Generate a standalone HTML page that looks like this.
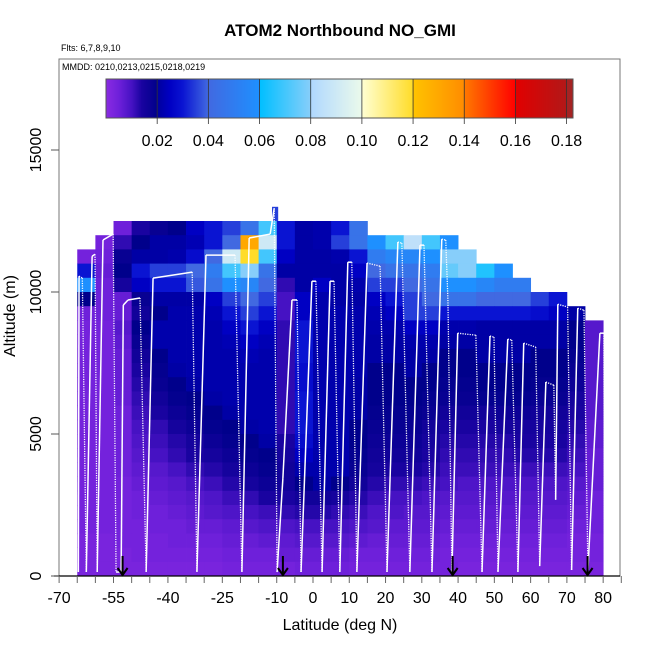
<!DOCTYPE html>
<html><head><meta charset="utf-8">
<style>
html,body{margin:0;padding:0;background:#fff;}
svg{display:block;font-family:"Liberation Sans",sans-serif;}
</style></head>
<body>
<svg id="chart" width="650" height="650" viewBox="0 0 650 650" xmlns="http://www.w3.org/2000/svg">
<text x="340" y="36" font-size="17" font-weight="bold" text-anchor="middle">ATOM2 Northbound NO_GMI</text>
<text x="61" y="51" font-size="9">Flts: 6,7,8,9,10</text>
<rect x="59" y="59" width="561" height="517" fill="none" stroke="#777" stroke-width="1"/>
<text x="62" y="70" font-size="9">MMDD: 0210,0213,0215,0218,0219</text>
<g id="cells"></g>
<g id="track"></g>
<g id="arrows"></g>
<g id="cbar"></g>
<g id="axes"></g>
<text x="340" y="630" font-size="16" text-anchor="middle">Latitude (deg N)</text>
<text transform="translate(15,316) rotate(-90)" font-size="16" text-anchor="middle">Altitude (m)</text>
</svg>
<script>
var latEdges = [-65,-60,-55,-50,-45,-40,-35,-30,-25,-20,-15,-10,-5,0,5,10,15,20,25,30,35,40,45,50,55,60,65,70,75,80];
var altStep = 500;
var n = null;
// rows from top (12000-12500 m) down to 0-500 m
var rowsTopDown = [
[n,n,.005,.014,.018,.02,.025,.03,.035,.045,.07,.03,.021,.022,.03,.045,n,n,n,n,n,n,n,n,n,n,n,n,n],
[n,.004,.012,.02,.021,.021,.023,.03,.04,.13,.09,.03,.021,.022,.035,.045,.06,.07,.085,.07,.06,n,n,n,n,n,n,n,n],
[.004,.005,.018,.021,.021,.022,.028,.04,.09,.12,.07,.025,.021,.021,.022,.03,.05,.055,.055,.06,.08,.08,n,n,n,n,n,n,n],
[.03,.006,.02,.03,.035,.035,.04,.05,.07,.08,.045,.021,.021,.021,.021,.025,.04,.045,.045,.05,.075,.08,.065,.06,n,n,n,n,n],
[.06,.005,.015,.025,.03,.03,.038,.045,.06,.055,.04,.012,.021,.025,.021,.022,.035,.035,.04,.045,.06,.06,.055,.05,.05,n,n,n,n],
[.02,.005,.006,.018,.021,.021,.021,.025,.035,.04,.035,.01,.025,.022,.021,.021,.025,.03,.035,.04,.045,.045,.04,.04,.04,.035,.03,n,n],
[.005,.005,.006,.016,.02,.022,.022,.023,.03,.035,.03,.01,.025,.022,.022,.022,.023,.025,.035,.035,.03,.03,.03,.03,.03,.028,.025,.021,n],
[.004,.004,.008,.02,.022,.022,.022,.022,.025,.03,.025,.012,.03,.022,.022,.022,.022,.022,.025,.025,.022,.022,.021,.021,.021,.021,.021,.02,.008],
[.004,.004,.007,.018,.022,.022,.022,.022,.023,.025,.023,.012,.03,.022,.022,.022,.021,.021,.022,.022,.021,.021,.021,.021,.021,.021,.021,.02,.008],
[.004,.004,.006,.016,.02,.022,.022,.022,.022,.023,.022,.012,.03,.022,.022,.022,.021,.021,.021,.021,.02,.02,.021,.021,.021,.02,.02,.019,.008],
[.004,.004,.006,.014,.019,.021,.022,.022,.022,.022,.022,.012,.028,.022,.022,.022,.02,.02,.021,.02,.02,.02,.02,.02,.02,.02,.02,.018,.008],
[.004,.004,.006,.013,.018,.02,.021,.022,.022,.022,.022,.012,.028,.022,.022,.021,.02,.02,.02,.02,.019,.019,.02,.02,.02,.019,.019,.017,.008],
[.004,.004,.006,.012,.016,.019,.02,.021,.022,.022,.022,.012,.03,.022,.022,.021,.02,.02,.02,.019,.018,.018,.019,.019,.019,.018,.018,.015,.008],
[.004,.004,.005,.011,.014,.017,.019,.02,.021,.022,.022,.012,.03,.022,.022,.021,.019,.019,.019,.018,.016,.016,.016,.017,.017,.016,.016,.014,.008],
[.004,.004,.005,.01,.012,.015,.017,.019,.02,.021,.022,.012,.03,.022,.022,.02,.018,.018,.018,.016,.014,.014,.014,.015,.015,.015,.015,.013,.007],
[.004,.004,.005,.009,.011,.013,.015,.017,.019,.02,.021,.014,.028,.022,.022,.02,.017,.017,.017,.015,.013,.013,.013,.013,.014,.014,.014,.012,.007],
[.004,.004,.005,.008,.01,.012,.014,.015,.017,.019,.02,.015,.025,.022,.022,.019,.016,.016,.016,.014,.012,.012,.012,.012,.013,.013,.013,.011,.006],
[.004,.004,.005,.007,.008,.01,.012,.013,.015,.017,.019,.016,.022,.022,.022,.018,.015,.014,.014,.013,.011,.011,.011,.011,.011,.011,.011,.01,.006],
[.004,.004,.004,.006,.007,.008,.01,.011,.013,.015,.017,.016,.02,.021,.02,.016,.013,.012,.012,.011,.01,.009,.009,.009,.009,.009,.009,.008,.006],
[.004,.004,.004,.005,.006,.007,.008,.009,.011,.012,.014,.014,.016,.016,.015,.013,.011,.01,.01,.009,.008,.008,.008,.008,.008,.008,.008,.007,.005],
[.004,.004,.004,.005,.005,.006,.007,.008,.009,.01,.011,.012,.013,.013,.012,.011,.009,.009,.008,.008,.007,.007,.007,.007,.007,.007,.007,.006,.005],
[.004,.004,.004,.004,.005,.005,.006,.006,.007,.008,.009,.009,.01,.01,.01,.009,.008,.007,.007,.007,.006,.006,.006,.006,.006,.006,.006,.005,.005],
[.003,.003,.004,.004,.004,.005,.005,.005,.006,.006,.007,.007,.008,.008,.008,.007,.006,.006,.006,.006,.005,.005,.005,.005,.005,.005,.005,.004,.004],
[.003,.003,.003,.004,.004,.004,.004,.004,.005,.005,.005,.006,.006,.006,.006,.005,.005,.005,.005,.005,.004,.004,.004,.004,.004,.004,.004,.004,.004],
[.003,.003,.003,.003,.003,.003,.003,.003,.004,.004,.004,.004,.005,.005,.005,.004,.004,.004,.004,.004,.004,.003,.003,.003,.003,.003,.003,.003,.003]
];
var extraCellLat = [-11.3, -9.6];
var extraCellAlt = [12500, 13000];
var extraCellValue = 0.035;

var trackLat = [-64.7,-64.5,-63.6,-62.5,-60.9,-60.1,-59.5,-57.9,-55.1,-54.3,-52.9,-52.3,-51,-47.7,-46,-44.1,-33.3,-32,-29.5,-21.5,-19.6,-17.6,-11.8,-10.7,-9.9,-8.3,-5.8,-4.4,-3.3,-0.3,0.8,2.5,4.7,5.8,7.4,9.6,10.7,12.1,14.9,18.5,20.4,23.4,24.5,26.7,29.5,30.6,32.8,35.5,36.6,37.2,38.3,39.9,44.9,46.6,48.8,49.9,51,53.7,54.8,56.5,58.1,61.4,62.5,64.2,66.4,66.9,67.5,70.2,71.3,73,74.7,75.8,79.1,80.2,80.4];
var trackAlt = [140,10560,10490,140,11260,11330,140,11830,12040,140,140,9540,9720,9790,140,10490,10700,140,11300,11300,140,11900,12040,12950,140,3450,9720,9720,140,10380,10380,140,10380,10380,140,11050,11050,140,11020,10910,140,11760,11720,140,11650,11650,140,11860,11830,9720,140,8550,8480,140,8450,8410,140,8340,8310,140,8200,8060,350,6830,6720,2680,9570,9470,210,9430,9360,210,8550,8550,210];
var arrowLat = [-52.5, -8.3, 38.5, 75.7];

var xTicks = [-70,-55,-40,-25,-10,0,10,20,30,40,50,60,70,80];
var yTicks = [0,5000,10000,15000];
var cbarTicks = [0.02,0.04,0.06,0.08,0.10,0.12,0.14,0.16,0.18];
var cbarTickLabels = ["0.02","0.04","0.06","0.08","0.10","0.12","0.14","0.16","0.18"];

var NS = "http://www.w3.org/2000/svg";
function X(lat){ return 313 + lat*3.627; }
function Y(alt){ return 576 - alt*0.02840; }
function mk(tag, parent){ var e=document.createElementNS(NS,tag); parent.appendChild(e); return e; }

var stops = [
[0.000,[138,43,226]],[0.005,[110,32,218]],[0.010,[70,18,195]],[0.014,[25,3,160]],[0.020,[0,0,139]],
[0.0201,[0,0,158]],[0.025,[0,0,195]],[0.030,[10,20,210]],[0.040,[65,105,225]],
[0.0401,[65,105,225]],[0.060,[30,144,255]],
[0.0601,[0,191,255]],[0.080,[135,206,250]],
[0.0801,[176,216,255]],[0.100,[235,250,235]],
[0.1001,[255,255,210]],[0.120,[255,220,40]],
[0.1201,[255,195,0]],[0.140,[255,140,0]],
[0.1401,[255,120,0]],[0.160,[255,0,0]],
[0.1601,[225,0,0]],[0.180,[178,24,24]],
[0.1801,[165,35,35]],[0.200,[165,35,35]]
];
function cmap(v){
  if(v<=0) v=0;
  for(var i=1;i<stops.length;i++){
    if(v<=stops[i][0]){
      var a=stops[i-1],b=stops[i],t=(v-a[0])/(b[0]-a[0]);
      var c=[0,1,2].map(function(k){return Math.round(a[1][k]+(b[1][k]-a[1][k])*t);});
      return "rgb("+c.join(",")+")";
    }
  }
  return "rgb(165,35,35)";
}

var cells=document.getElementById("cells");
var nRows=rowsTopDown.length;
for(var r=0;r<nRows;r++){
  var altLo=(nRows-1-r)*altStep;
  for(var c=0;c<latEdges.length-1;c++){
    var v=rowsTopDown[r][c];
    if(v===null) continue;
    var rc=mk("rect",cells);
    
    
    var x0=X(latEdges[c]), x1=X(latEdges[c+1]);
    rc.setAttribute("x",x0.toFixed(2)); rc.setAttribute("width",(x1-x0+0.4).toFixed(2));
    rc.setAttribute("y",Y(altLo+altStep).toFixed(2)); rc.setAttribute("height",(Y(altLo)-Y(altLo+altStep)+0.4).toFixed(2));
    rc.setAttribute("fill",cmap(v));
  }
}
var ex=mk("rect",cells);


ex.setAttribute("x",X(extraCellLat[0])); ex.setAttribute("width",X(extraCellLat[1])-X(extraCellLat[0]));
ex.setAttribute("y",Y(extraCellAlt[1])); ex.setAttribute("height",Y(extraCellAlt[0])-Y(extraCellAlt[1]));
ex.setAttribute("fill",cmap(extraCellValue));

var tr=document.getElementById("track");
for(var i=0;i<trackLat.length-1;i++){
  var ln=mk("line",tr);
  
  
  ln.setAttribute("x1",X(trackLat[i])); ln.setAttribute("y1",Y(trackAlt[i]));
  ln.setAttribute("x2",X(trackLat[i+1])); ln.setAttribute("y2",Y(trackAlt[i+1]));
  ln.setAttribute("stroke","#fff");
  if(trackAlt[i+1]<trackAlt[i]){ ln.setAttribute("stroke-width","1.3"); ln.setAttribute("stroke-dasharray","1.2 1.2"); }
  else { ln.setAttribute("stroke-width","1.5"); }
}

var ag=document.getElementById("arrows");
arrowLat.forEach(function(lat){
  var g=mk("g",ag);
  
  
  var x=X(lat);
  var l=mk("line",g); l.setAttribute("x1",x); l.setAttribute("x2",x); l.setAttribute("y1",556); l.setAttribute("y2",575);
  l.setAttribute("stroke","#000"); l.setAttribute("stroke-width","2");
  var p=mk("path",g); p.setAttribute("d","M"+(x-5)+" 568 L"+x+" 575 L"+(x+5)+" 568");
  p.setAttribute("stroke","#000"); p.setAttribute("stroke-width","2"); p.setAttribute("fill","none");
});

var cb=document.getElementById("cbar");
var cbX0=106, cbX1=573, cbY0=79, cbY1=118, cbMax=0.1825;
function CB(v){ return cbX0 + v/cbMax*(cbX1-cbX0); }
for(var px=cbX0;px<cbX1;px++){
  var s=mk("rect",cb);
  
  
  s.setAttribute("x",px); s.setAttribute("y",cbY0); s.setAttribute("width",1.3); s.setAttribute("height",cbY1-cbY0);
  s.setAttribute("fill",cmap((px+0.5-cbX0)/(cbX1-cbX0)*cbMax));
}
var fr=mk("rect",cb);


fr.setAttribute("x",cbX0); fr.setAttribute("y",cbY0); fr.setAttribute("width",cbX1-cbX0); fr.setAttribute("height",cbY1-cbY0);
fr.setAttribute("fill","none"); fr.setAttribute("stroke","#555"); fr.setAttribute("stroke-width","1");
cbarTicks.forEach(function(v,i){
  var x=CB(v);
  var l=mk("line",cb);
  
  
  l.setAttribute("x1",x); l.setAttribute("x2",x); l.setAttribute("y1",cbY0); l.setAttribute("y2",cbY1+6);
  l.setAttribute("stroke","#333"); l.setAttribute("stroke-width","0.8");
  var t=mk("text",cb);
  
  
  t.setAttribute("x",x); t.setAttribute("y",146); t.setAttribute("font-size","16"); t.setAttribute("text-anchor","middle");
  t.textContent=cbarTickLabels[i];
});

var ax=document.getElementById("axes");
var bl=mk("line",ax);


bl.setAttribute("x1",54); bl.setAttribute("x2",620); bl.setAttribute("y1",576); bl.setAttribute("y2",576);
bl.setAttribute("stroke","#000"); bl.setAttribute("stroke-width","1.2");
for(var lt=-70;lt<=85;lt+=5){
  var tk=mk("line",ax);
  
  
  tk.setAttribute("x1",X(lt)); tk.setAttribute("x2",X(lt)); tk.setAttribute("y1",576); tk.setAttribute("y2",583);
  tk.setAttribute("stroke","#666"); tk.setAttribute("stroke-width","1");
}
xTicks.forEach(function(v){
  var t=mk("text",ax);
  
  
  t.setAttribute("x",X(v)); t.setAttribute("y",603); t.setAttribute("font-size","16"); t.setAttribute("text-anchor","middle");
  t.textContent=v;
});
yTicks.forEach(function(v){
  var y=Y(v);
  var tk=mk("line",ax);
  
  
  tk.setAttribute("x1",51); tk.setAttribute("x2",59); tk.setAttribute("y1",y); tk.setAttribute("y2",y);
  tk.setAttribute("stroke","#555"); tk.setAttribute("stroke-width","1");
  var t=mk("text",ax);
  
  
  t.setAttribute("transform","translate(41,"+y+") rotate(-90)"); t.setAttribute("font-size","16"); t.setAttribute("text-anchor","middle");
  t.textContent=v;
});
</script>
</body></html>
